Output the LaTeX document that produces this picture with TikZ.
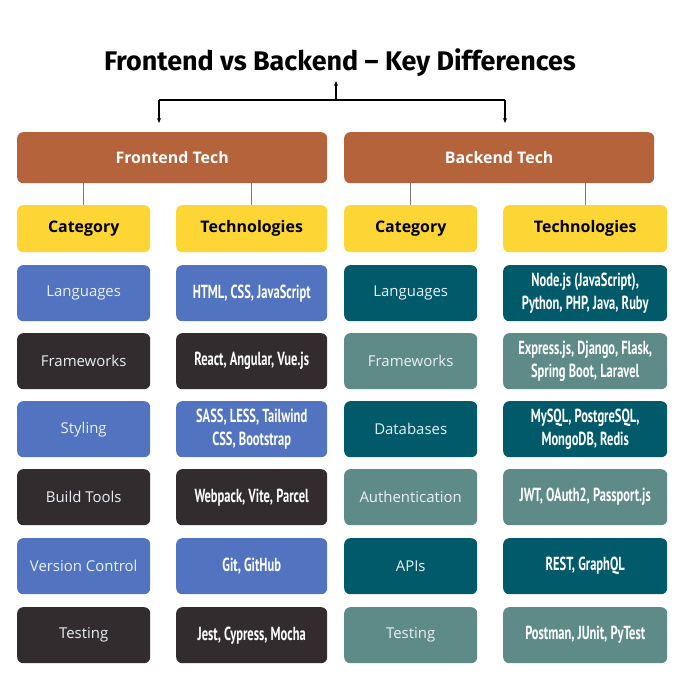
\documentclass[tikz,border=0pt]{standalone}
\usepackage{fontspec}
\setmainfont{Open Sans}
\newfontfamily\titlefont{Fira Sans}
\newfontfamily\condfont[FakeStretch=0.66]{PT Sans}
\usetikzlibrary{arrows.meta}
\definecolor{brownbox}{HTML}{B5633A}
\definecolor{yellowbox}{HTML}{FDD535}
\definecolor{bluebox}{HTML}{5273BF}
\definecolor{darkbox}{HTML}{332C2E}
\definecolor{tealdark}{HTML}{005A6A}
\definecolor{teallight}{HTML}{5E8B88}
\definecolor{linegray}{HTML}{7A7A7A}
\definecolor{lighttext}{HTML}{EAF0F6}
\begin{document}
\begin{tikzpicture}[x=1bp,y=-1bp,
  box/.style={rounded corners=6bp, inner sep=0pt, align=center, anchor=north west},
  headbox/.style={box, fill=brownbox, text=white, font=\fontsize{16}{19}\selectfont\bfseries},
  ybox/.style={box, fill=yellowbox, text=black, font=\fontsize{16}{19}\selectfont\bfseries, minimum height=47bp},
  catbox/.style={box, text=lighttext, font=\fontsize{15}{18}\selectfont, minimum height=56bp, minimum width=133bp},
  techbox/.style={box, text=white, font=\condfont\bfseries\fontsize{19}{23}\selectfont, minimum height=56bp},
  gline/.style={draw=linegray, line width=1.3bp},
  arr/.style={draw=black, line width=1.1bp, -{Stealth[length=5bp,width=4bp]}}
]
\useasboundingbox (0,0) rectangle (680,680);
\fill[white] (0,0) rectangle (680,680);
% title
\node[font=\titlefont\bfseries\fontsize{27}{32}\selectfont, inner sep=0pt, anchor=base] (title) at (340,71) {Frontend vs Backend – Key Differences};
% heads
\node[headbox, minimum width=310bp, minimum height=51bp] (ft) at (17,132) {Frontend Tech};
\node[headbox, minimum width=310bp, minimum height=51bp] (bt) at (344,132) {Backend Tech};
% arrows
\coordinate (junc) at (336,100);
\coordinate (tip) at (336,81);
\coordinate (jl) at (159,100);
\coordinate (jr) at (505,100);
\coordinate (al) at (159,123);
\coordinate (ar) at (505,123);
\draw[arr] (junc) -- (tip);
\draw[line width=1.1bp] (jl) -- (jr);
\draw[arr] (jl) -- (al);
\draw[arr] (jr) -- (ar);
% yellow headers
\node[ybox, minimum width=133bp] (fcat) at (17,205) {Category};
\node[ybox, minimum width=151bp] (ftec) at (176,205) {Technologies};
\node[ybox, minimum width=133bp] (bcat) at (344,205) {Category};
\node[ybox, minimum width=164bp] (btec) at (503,205) {Technologies};
\draw[gline] (fcat.north) -- (fcat.north |- ft.south);
\draw[gline] (ftec.north) -- (ftec.north |- ft.south);
\draw[gline] (bcat.north) -- (bcat.north |- bt.south);
\draw[gline] (btec.north) -- (btec.north |- bt.south);
% frontend rows
\node[catbox, fill=bluebox] (f1) at (17,265) {Languages};
\node[catbox, fill=darkbox] (f2) at (17,333) {Frameworks};
\node[catbox, fill=bluebox] (f3) at (17,401) {Styling};
\node[catbox, fill=darkbox] (f4) at (17,469) {Build Tools};
\node[catbox, fill=bluebox] (f5) at (17,538) {Version Control};
\node[catbox, fill=darkbox] (f6) at (17,607) {Testing};
\node[techbox, fill=bluebox, minimum width=151bp] (t1) at (176,265) {HTML, CSS, JavaScript};
\node[techbox, fill=darkbox, minimum width=151bp] (t2) at (176,333) {React, Angular, Vue.js};
\node[techbox, fill=bluebox, minimum width=151bp] (t3) at (176,401) {SASS, LESS, Tailwind\\CSS, Bootstrap};
\node[techbox, fill=darkbox, minimum width=151bp] (t4) at (176,469) {Webpack, Vite, Parcel};
\node[techbox, fill=bluebox, minimum width=151bp] (t5) at (176,538) {Git, GitHub};
\node[techbox, fill=darkbox, minimum width=151bp] (t6) at (176,607) {Jest, Cypress, Mocha};
% backend rows
\node[catbox, fill=tealdark] (b1) at (344,265) {Languages};
\node[catbox, fill=teallight] (b2) at (344,333) {Frameworks};
\node[catbox, fill=tealdark] (b3) at (344,401) {Databases};
\node[catbox, fill=teallight] (b4) at (344,469) {Authentication};
\node[catbox, fill=tealdark] (b5) at (344,538) {APIs};
\node[catbox, fill=teallight] (b6) at (344,607) {Testing};
\node[techbox, fill=tealdark, minimum width=164bp] (u1) at (503,265) {Node.js (JavaScript),\\Python, PHP, Java, Ruby};
\node[techbox, fill=teallight, minimum width=164bp] (u2) at (503,333) {Express.js, Django, Flask,\\Spring Boot, Laravel};
\node[techbox, fill=tealdark, minimum width=164bp] (u3) at (503,401) {MySQL, PostgreSQL,\\MongoDB, Redis};
\node[techbox, fill=teallight, minimum width=164bp] (u4) at (503,469) {JWT, OAuth2, Passport.js};
\node[techbox, fill=tealdark, minimum width=164bp] (u5) at (503,538) {REST, GraphQL};
\node[techbox, fill=teallight, minimum width=164bp] (u6) at (503,607) {Postman, JUnit, PyTest};
\end{tikzpicture}
\end{document}
